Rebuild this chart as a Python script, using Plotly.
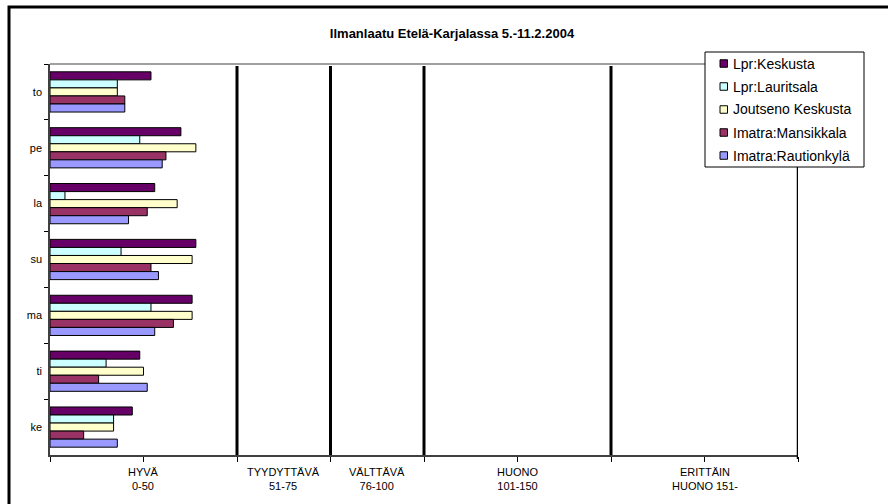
import plotly.graph_objects as go

# ---------------- data ----------------
days = ["to", "pe", "la", "su", "ma", "ti", "ke"]
series_names = ["Lpr:Keskusta", "Lpr:Lauritsala", "Joutseno Keskusta",
                "Imatra:Mansikkala", "Imatra:Rautionkylä"]
lpr_keskusta = [27, 35, 28, 39, 38, 24, 22]
lpr_lauritsala = [18, 24, 4, 19, 27, 15, 17]
joutseno_keskusta = [18, 39, 34, 38, 38, 25, 17]
imatra_mansikkala = [20, 31, 26, 27, 33, 13, 9]
imatra_rautionkyla = [20, 30, 21, 29, 28, 26, 18]
series_values = [lpr_keskusta, lpr_lauritsala, joutseno_keskusta,
                 imatra_mansikkala, imatra_rautionkyla]
band_limits = [50, 75, 100, 150, 200]
band_centers = [25, 62.5, 87.5, 125, 175]
band_labels = ["HYVÄ<br>0-50", "TYYDYTTÄVÄ<br>51-75", "VÄLTTÄVÄ<br>76-100",
               "HUONO<br>101-150", "ERITTÄIN<br>HUONO 151-"]
x_ticks = [0, 25, 50, 75, 100, 125, 150, 175, 200]
title_text = "Ilmanlaatu Etelä-Karjalassa 5.-11.2.2004"

# ---------------- style ----------------
colors = ["#660066", "#CCFFFF", "#FFFFCC", "#993366", "#9999FF"]
FONT = "Liberation Sans, Arial, sans-serif"
W, H = 888, 504
L, R, T, B = 50, 798, 64, 455


def px(xp):
    return (xp - L) / (R - L)


def py(yp):
    return (B - yp) / (B - T)


fig = go.Figure()
for name, vals, col in zip(series_names, series_values, colors):
    fig.add_trace(go.Bar(
        y=days, x=vals, name=name, orientation="h",
        marker=dict(color=col, line=dict(color="#000000", width=1)),
        showlegend=False,
    ))

shapes = []
# outer chart frame (cropped at right/bottom)
shapes.append(dict(type="rect", xref="paper", yref="paper",
                   x0=px(9), x1=px(905), y0=py(7), y1=py(530),
                   line=dict(color="#000000", width=3), fillcolor="rgba(0,0,0,0)"))
# plot area top border
shapes.append(dict(type="line", xref="paper", yref="paper",
                   x0=0, x1=1, y0=1, y1=1,
                   line=dict(color="#808080", width=1.5)))
# band limit lines
for v in band_limits:
    shapes.append(dict(type="line", xref="x", yref="paper",
                       x0=v, x1=v, y0=py(459) if v == 200 else 0, y1=py(66),
                       line=dict(color="#000000", width=3 if v != 200 else 2.5)))

# custom legend
lx0, lx1, ly0, ly1 = 705, 864, 52, 167
shapes.append(dict(type="rect", xref="paper", yref="paper",
                   x0=px(lx0), x1=px(lx1), y0=py(ly0), y1=py(ly1),
                   line=dict(color="#000000", width=1), fillcolor="#FFFFFF"))
annotations = []
item_y = [63.5, 86.5, 109.5, 132.5, 155.5]
for name, col, yc in zip(series_names, colors, item_y):
    shapes.append(dict(type="rect", xref="paper", yref="paper",
                       x0=px(720), x1=px(727.5), y0=py(yc - 3.75), y1=py(yc + 3.75),
                       line=dict(color="#000000", width=1), fillcolor=col))
    annotations.append(dict(xref="paper", yref="paper", x=px(731), y=py(yc),
                            xanchor="left", yanchor="middle", showarrow=False,
                            text=name, font=dict(family=FONT, size=14, color="#000000")))

for xc, lab in zip(band_centers, band_labels):
    annotations.append(dict(xref="x", yref="paper", x=xc, y=py(464),
                            xanchor="center", yanchor="top", showarrow=False,
                            text=lab, align="center",
                            font=dict(family=FONT, size=11, color="#000000")))

fig.update_layout(
    width=W, height=H,
    margin=dict(l=L, r=W - R, t=T, b=H - B, pad=0),
    paper_bgcolor="#FFFFFF", plot_bgcolor="#FFFFFF",
    barmode="group", bargap=0.28, bargroupgap=0,
    title=dict(text="<b>" + title_text + "</b>", x=452 / W, xanchor="center",
               y=1 - 33 / H, yanchor="middle",
               font=dict(family=FONT, size=13, color="#000000")),
    font=dict(family=FONT, size=11, color="#000000"),
    xaxis=dict(range=[0, 200], tickvals=x_ticks, showticklabels=False,
               ticks="outside", ticklen=5, tickcolor="#000000", tickwidth=1,
               showgrid=False, zeroline=False, showline=True,
               linecolor="#404040", linewidth=1.5),
    yaxis=dict(categoryorder="array", categoryarray=days, autorange="reversed",
               ticks="outside", tickson="boundaries", ticklen=4,
               ticklabelstandoff=4,
               tickcolor="#000000", showgrid=False, zeroline=False,
               showline=True, linecolor="#404040", linewidth=1.5,
               tickfont=dict(family=FONT, size=11, color="#000000")),
    shapes=shapes, annotations=annotations,
)

fig.write_html(
    "out.html",
    config={"displayModeBar": False},
    post_script="document.body.style.margin='0';document.body.style.padding='0';"
                "document.body.style.overflow='hidden';",
)
